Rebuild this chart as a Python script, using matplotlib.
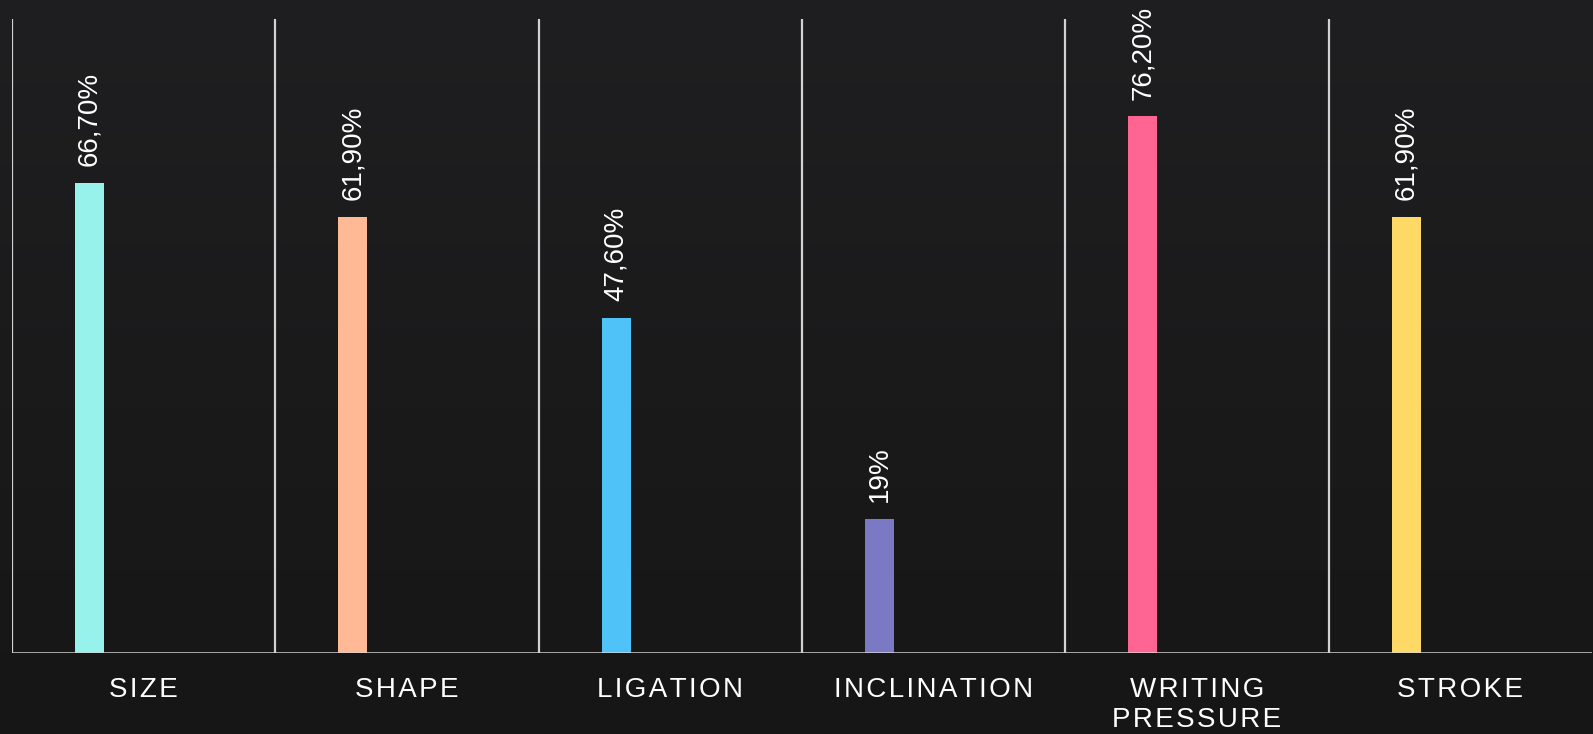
import numpy as np
import matplotlib.pyplot as plt

categories = ['SIZE', 'SHAPE', 'LIGATION', 'INCLINATION', 'WRITING\nPRESSURE', 'STROKE']
values = [66.7, 61.9, 47.6, 19.0, 76.2, 61.9]
value_labels = ['66,70%', '61,90%', '47,60%', '19%', '76,20%', '61,90%']
colors = ['#96f2eb', '#ffb994', '#4fc3f7', '#7b78c4', '#ff6592', '#ffd966']

bg = '#1b1b1c'
line_col = '#d2d2d2'

plt.rcParams['font.family'] = ['Liberation Sans', 'DejaVu Sans']

fig = plt.figure(figsize=(15.93, 7.34), dpi=100, facecolor=bg)

# dark board background, slightly lighter towards the top
bg_ax = fig.add_axes([0, 0, 1, 1], zorder=0)
grad = np.linspace(0, 1, 256).reshape(-1, 1)
top = np.array([0x1f, 0x1f, 0x21]) / 255
bottom = np.array([0x16, 0x16, 0x16]) / 255
img = top + (bottom - top) * grad[..., None]
bg_ax.imshow(np.repeat(img, 2, axis=1), aspect='auto', extent=(0, 1, 0, 1))
bg_ax.axis('off')

ax = fig.add_axes([12 / 1593, 81 / 734, 1580 / 1593, 634 / 734], zorder=1)
ax.patch.set_alpha(0)

n = len(categories)
xs = [i + 0.294 for i in range(n)]
bars = ax.bar(xs, values, width=0.11, color=colors, zorder=3)

for bar, lab in zip(bars, value_labels):
    ax.annotate(lab, (bar.get_x() + bar.get_width() / 2, bar.get_height()),
                xytext=(0, 12), textcoords='offset points',
                rotation=90, ha='center', va='bottom',
                color='white', fontsize=20)

# boundaries between categories
for i in range(n):
    ax.axvline(i, color=line_col, lw=1.6, zorder=2)
ax.axhline(0, color=line_col, lw=1.8, zorder=4)

ax.set_xlim(0, n)
ax.set_ylim(0, 90)
for s in ax.spines.values():
    s.set_visible(False)
ax.set_yticks([])

spaced = ['\n'.join('\u200a'.join(word) for word in c.split('\n')) for c in categories]
ax.set_xticks([i + 0.5 for i in range(n)])
ax.set_xticklabels(spaced, color='white', fontsize=20, linespacing=1.2)
ax.tick_params(axis='x', length=0, pad=17)

fig.savefig('out.png', dpi=100, facecolor=bg)
